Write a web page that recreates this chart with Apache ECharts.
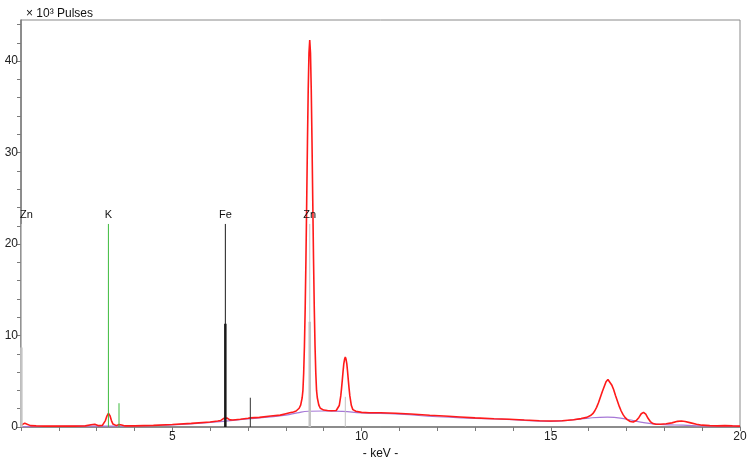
<!DOCTYPE html>
<html>
<head>
<meta charset="utf-8">
<script src="https://cdn.jsdelivr.net/npm/echarts@6/dist/echarts.min.js"></script>
<style>
html, body { margin: 0; padding: 0; background: #fff; }
#main { width: 751px; height: 465px; }
</style>
</head>
<body>
<div id="main"></div>
<script>
// spectrum, keV / x10^3 pulses
var specKeV = [1.00, 1.05, 1.10, 1.15, 1.25, 1.40, 1.60, 2.00, 2.40, 2.70, 2.85, 2.95, 3.05, 3.15,
  3.19, 3.23, 3.27, 3.31, 3.35, 3.39, 3.43, 3.47, 3.52, 3.59, 3.66, 3.75, 4.00, 4.50, 5.00, 5.50,
  6.00, 6.20, 6.28, 6.32, 6.36, 6.40, 6.44, 6.48, 6.52, 6.60, 6.80, 7.00, 7.06, 7.30, 7.60, 7.85,
  8.00, 8.10, 8.20, 8.27, 8.31, 8.35, 8.39, 8.43, 8.45, 8.47, 8.49, 8.51, 8.53, 8.55, 8.57, 8.59,
  8.61, 8.63, 8.65, 8.67, 8.69, 8.71, 8.73, 8.75, 8.77, 8.79, 8.81, 8.83, 8.87, 8.91, 8.95, 9.00,
  9.10, 9.20, 9.33, 9.37, 9.41, 9.45, 9.47, 9.49, 9.51, 9.53, 9.55, 9.57, 9.59, 9.61, 9.63, 9.65,
  9.67, 9.69, 9.73, 9.77, 9.81, 9.85, 10.00, 10.20, 10.50, 10.90, 11.30, 11.80, 12.30, 12.60, 13.00,
  13.50, 13.90, 14.30, 14.70, 15.00, 15.30, 15.60, 15.80, 15.95, 16.05, 16.11, 16.16, 16.21, 16.26,
  16.31, 16.36, 16.41, 16.46, 16.51, 16.56, 16.61, 16.66, 16.71, 16.76, 16.81, 16.86, 16.91, 16.96,
  17.02, 17.10, 17.18, 17.26, 17.33, 17.39, 17.45, 17.51, 17.57, 17.63, 17.70, 17.78, 17.90, 18.05,
  18.20, 18.35, 18.45, 18.55, 18.70, 18.85, 19.00, 19.20, 19.40, 19.60, 19.80, 20.00];
var specCounts = [0.20, 0.35, 0.42, 0.28, 0.15, 0.12, 0.10, 0.10, 0.10, 0.12, 0.25, 0.30, 0.15, 0.18,
  0.30, 0.70, 1.20, 1.50, 1.25, 0.70, 0.32, 0.18, 0.15, 0.28, 0.22, 0.12, 0.12, 0.18, 0.28, 0.40,
  0.55, 0.65, 0.72, 0.80, 0.95, 1.05, 0.98, 0.85, 0.78, 0.76, 0.85, 0.95, 1.00, 1.05, 1.20, 1.30,
  1.45, 1.55, 1.65, 1.75, 1.85, 2.05, 2.40, 3.20, 4.00, 5.90, 8.85, 13.0, 18.4, 24.7, 31.2, 36.9,
  40.9, 42.3, 40.9, 36.9, 31.2, 24.7, 18.4, 13.0, 8.85, 5.90, 4.00, 3.20, 2.40, 2.05, 1.90, 1.85,
  1.80, 1.78, 1.80, 1.90, 2.35, 3.40, 4.20, 5.10, 6.05, 6.90, 7.40, 7.65, 7.40, 6.90, 6.05, 5.10,
  4.20, 3.40, 2.35, 1.90, 1.80, 1.72, 1.60, 1.55, 1.55, 1.50, 1.42, 1.28, 1.17, 1.10, 1.00,
  0.90, 0.85, 0.76, 0.68, 0.65, 0.68, 0.80, 0.92, 1.05, 1.25, 1.45, 1.75, 2.15, 2.65,
  3.25, 3.85, 4.40, 4.95, 5.20, 5.00, 4.60, 4.10, 3.45, 2.85, 2.25, 1.75, 1.35, 1.05,
  0.80, 0.60, 0.55, 0.70, 1.05, 1.45, 1.60, 1.40, 0.95, 0.60, 0.38, 0.30, 0.30, 0.35,
  0.45, 0.62, 0.65, 0.60, 0.45, 0.30, 0.20, 0.15, 0.12, 0.15, 0.12, 0.10];

// fitted background
var bgKeV = [1, 2, 3, 4, 5, 6, 7, 8, 8.3, 8.6, 9.0, 9.5, 10, 11, 12, 13, 14, 15, 15.5, 16, 16.5, 17, 17.5, 18, 18.5, 19, 20];
var bgCounts = [0.05, 0.08, 0.10, 0.11, 0.24, 0.50, 0.88, 1.30, 1.55, 1.72, 1.75, 1.70, 1.55, 1.40, 1.12, 0.95, 0.80, 0.62, 0.74, 0.98, 1.08, 0.85, 0.45, 0.25, 0.20, 0.12, 0.08];

// element lines
var elemNames = ['Zn', 'K', 'Fe', 'Zn'];
var elemKeV = [1.01, 3.31, 6.40, 8.63];
var elemTop = [22.2, 22.2, 22.2, 22.2];
var elemBar = [8.7, 0, 11.3, 11.5];
var elemColors = ['#c4c4c4', '#3dbb3d', '#1a1a1a', '#c4c4c4'];
var betaKeV = [3.59, 7.06, 9.57];
var betaHeight = [2.6, 3.2, 3.3];
var betaColors = ['#3dbb3d', '#333333', '#c4c4c4'];

var xTicks = [5, 10, 15, 20];
var yTicks = [0, 10, 20, 30, 40];

function pairs(xs, ys) {
  var out = [];
  for (var i = 0; i < xs.length; i++) out.push([xs[i], ys[i]]);
  return out;
}

var series = [];
series.push({
  type: 'line', data: pairs(bgKeV, bgCounts), showSymbol: false, smooth: true,
  lineStyle: { color: '#a678d6', width: 1.2 }, z: 2, silent: true
});
series.push({
  type: 'line', data: pairs(specKeV, specCounts), showSymbol: false,
  lineStyle: { color: '#ff1a1a', width: 1.6 }, z: 3, silent: true
});
for (var i = 0; i < elemKeV.length; i++) {
  series.push({
    type: 'line', data: [[elemKeV[i], 0], [elemKeV[i], elemTop[i]]], showSymbol: false,
    lineStyle: { color: elemColors[i], width: 1 }, z: 4, silent: true
  });
  if (elemBar[i] > 0) {
    series.push({
      type: 'line', data: [[elemKeV[i], 0], [elemKeV[i], elemBar[i]]], showSymbol: false,
      lineStyle: { color: elemColors[i], width: 2.5 }, z: 4, silent: true
    });
  }
}
for (var j = 0; j < betaKeV.length; j++) {
  series.push({
    type: 'line', data: [[betaKeV[j], 0], [betaKeV[j], betaHeight[j]]], showSymbol: false,
    lineStyle: { color: betaColors[j], width: 1 }, z: 4, silent: true
  });
}
series.push({
  type: 'scatter', symbolSize: 0, z: 5, silent: true,
  itemStyle: { opacity: 1 },
  data: elemKeV.map(function (e, k) { return { value: [e, elemTop[k]], name: elemNames[k],
    label: { offset: k === 0 ? [5, 0] : [0, 0] } }; }),
  label: {
    show: true, position: 'top', distance: 3, formatter: '{b}', opacity: 1,
    color: '#111', fontSize: 11, fontFamily: 'Liberation Sans'
  }
});

var myChart = echarts.init(document.getElementById('main'));
var option = {
  animation: false,
  backgroundColor: '#fff',
  title: {
    text: '× 10³ Pulses', left: 21, top: 3,
    textStyle: { fontSize: 12, fontWeight: 'normal', color: '#111', fontFamily: 'Liberation Sans' }
  },
  grid: { left: 21, right: 11, top: 20, bottom: 38, show: true, borderColor: '#8a8a8a', borderWidth: 1 },
  xAxis: {
    type: 'value', min: 1, max: 20, interval: 1,
    name: '- keV -', nameLocation: 'middle', nameGap: 20,
    nameTextStyle: { color: '#111', fontSize: 12, fontFamily: 'Liberation Sans' },
    axisLine: { lineStyle: { color: '#7a7a7a', width: 1.5 } },
    axisTick: { show: true, length: 4, lineStyle: { color: '#7a7a7a' } },
    axisLabel: {
      color: '#222', fontSize: 12, fontFamily: 'Liberation Sans', margin: 4,
      formatter: function (v) { return xTicks.indexOf(v) >= 0 ? String(v) : ''; }
    },
    splitLine: { show: false }
  },
  yAxis: {
    type: 'value', min: 0, max: 44.5, interval: 2,
    axisLine: { show: true, lineStyle: { color: '#7a7a7a', width: 1.5 } },
    axisTick: { show: true, length: 4, lineStyle: { color: '#7a7a7a' } },
    axisLabel: {
      color: '#222', fontSize: 12, fontFamily: 'Liberation Sans', margin: 3, showMaxLabel: false,
      formatter: function (v) { return yTicks.indexOf(v) >= 0 ? String(v) : ''; }
    },
    splitLine: { show: false }
  },
  series: series
};
myChart.setOption(option);
</script>
</body>
</html>
